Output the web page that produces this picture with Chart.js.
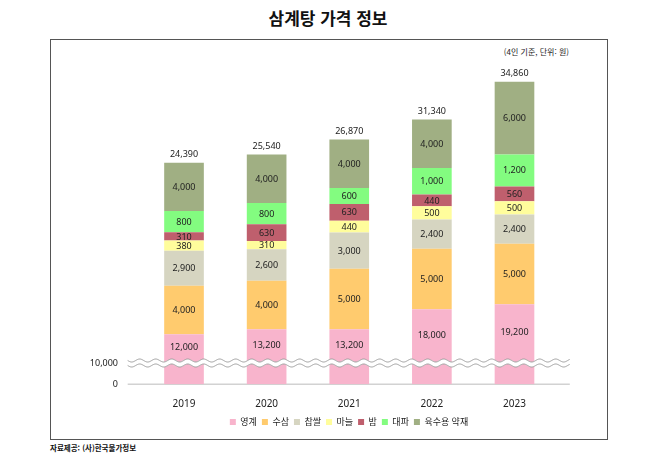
<!DOCTYPE html>
<html lang="ko">
<head>
<meta charset="utf-8">
<script src="https://cdn.jsdelivr.net/npm/chart.js@4/dist/chart.umd.min.js"></script>
<style>
  html, body { margin: 0; padding: 0; background: #fff; }
  #wrap { position: relative; width: 658px; height: 464px; overflow: hidden; font-family: 'Noto Sans', 'Noto Sans CJK KR', sans-serif; }
  #frame { position: absolute; left: 50px; top: 39px; width: 556px; height: 399px; border: 1.5px solid #555; }
  #title { position: absolute; left: 0; top: 7px; width: 656px; text-align: center; font-family: 'Noto Sans CJK KR', sans-serif; font-weight: 700; font-size: 17px; line-height: 22px; color: #111; }
  #unit { position: absolute; right: 89px; top: 46px; font-family: 'Noto Sans CJK KR', sans-serif; font-size: 8px; line-height: 12px; color: #222; }
  #source { position: absolute; left: 50px; top: 442px; font-family: 'Noto Sans CJK KR', sans-serif; font-weight: 700; font-size: 7.5px; line-height: 12px; color: #111; }
  canvas { position: absolute; left: 0; top: 0; }
</style>
</head>
<body>
<div id="wrap">
  <div id="frame"></div>
  <div id="title">삼계탕 가격 정보</div>
  <div id="unit">(4인 기준, 단위: 원)</div>
  <div id="source">자료제공: (사)한국물가정보</div>
  <canvas id="c" width="658" height="464"></canvas>
</div>
<script>
// ---- data (원, 4인 기준) ----
const categories = ['2019', '2020', '2021', '2022', '2023'];
const seriesNames = ['영계', '수삼', '찹쌀', '마늘', '밤', '대파', '육수용 약재'];
const youngChicken = [12000, 13200, 13200, 18000, 19200];
const ginseng      = [4000, 4000, 5000, 5000, 5000];
const glutinousRice = [2900, 2600, 3000, 2400, 2400];
const garlic       = [380, 310, 440, 500, 500];
const chestnut     = [310, 630, 630, 440, 560];
const greenOnion   = [800, 800, 600, 1000, 1200];
const herbs        = [4000, 4000, 4000, 4000, 6000];
const totals       = [24390, 25540, 26870, 31340, 34860];
const yTickLabels  = ['0', '10,000'];

// ---- styling ----
const seriesValues = [youngChicken, ginseng, glutinousRice, garlic, chestnut, greenOnion, herbs];
const colors = ['#F8B4CC', '#FFCB6E', '#D6D5C1', '#FFFD9C', '#BF5F6D', '#83FC80', '#A0AF83'];
// The infographic draws segments with non-uniform visual scales (broken axis for 영계,
// enlarged small items). These factors reproduce that visual compression.
const visualFactor = [0.345, 1, 1, 2.2, 2.2, 2.2, 1];
const BREAK_AT = 1760; // axis-break position (display units) where "10,000" is shown

const fontFam = "'Noto Sans', 'Noto Sans CJK KR', sans-serif";
const fmt = v => v.toLocaleString('en-US');

const datasets = seriesNames.map((name, i) => ({
  label: name,
  data: seriesValues[i].map(v => v * visualFactor[i]),
  realValues: seriesValues[i],
  backgroundColor: colors[i],
  borderWidth: 0,
  barPercentage: 0.48,
  categoryPercentage: 1.0
}));

function wave(ctx, x0, x1, y, amp, len) {
  ctx.beginPath();
  for (let x = x0; x <= x1; x += 0.5) {
    const yy = y + amp * Math.sin(2 * Math.PI * (x - x0) / len);
    if (x === x0) ctx.moveTo(x, yy); else ctx.lineTo(x, yy);
  }
  ctx.stroke();
}

const decor = {
  id: 'decor',
  beforeDatasetsDraw(chart) {
    const {ctx, chartArea, scales} = chart;
    const y = scales.y.getPixelForValue(0);
    ctx.save();
    ctx.strokeStyle = '#d2d2d2';
    ctx.lineWidth = 1.5;
    ctx.beginPath();
    ctx.moveTo(chartArea.left - 15, y);
    ctx.lineTo(chartArea.right + 14, y);
    ctx.stroke();
    ctx.restore();
  },
  afterDatasetsDraw(chart) {
    const {ctx, chartArea, scales} = chart;
    const yb = scales.y.getPixelForValue(BREAK_AT);
    const x0 = chartArea.left - 15, x1 = chartArea.right + 14;
    ctx.save();
    ctx.strokeStyle = '#ffffff';
    ctx.lineWidth = 5;
    wave(ctx, x0, x1, yb, 1.5, 16);
    ctx.strokeStyle = '#9a9a9a';
    ctx.lineWidth = 1;
    wave(ctx, x0, x1, yb - 2.5, 1.5, 16);
    wave(ctx, x0, x1, yb + 2.5, 1.5, 16);

    // value labels
    ctx.font = '9px ' + fontFam;
    ctx.fillStyle = '#222';
    ctx.textAlign = 'center';
    ctx.textBaseline = 'middle';
    chart.data.datasets.forEach((ds, di) => {
      const meta = chart.getDatasetMeta(di);
      meta.data.forEach((bar, i) => {
        const bottom = di === 0 ? yb - 2.5 : bar.base;
        ctx.fillText(fmt(ds.realValues[i]), bar.x, (bar.y + bottom) / 2 + 0.5);
      });
    });
    // totals
    const topMeta = chart.getDatasetMeta(chart.data.datasets.length - 1);
    topMeta.data.forEach((bar, i) => {
      ctx.fillText(fmt(totals[i]), bar.x, bar.y - 8);
    });
    ctx.restore();
  }
};

new Chart(document.getElementById('c'), {
  type: 'bar',
  data: { labels: categories, datasets },
  plugins: [decor],
  options: {
    responsive: false,
    animation: false,
    devicePixelRatio: 1,
    layout: { padding: { left: 82.7, right: 42.7, top: 69.7, bottom: 27.5 } },
    plugins: {
      title: { display: false },
      tooltip: { enabled: false },
      legend: {
        position: 'bottom',
        labels: {
          boxWidth: 6, boxHeight: 6, padding: 5,
          color: '#222',
          font: { family: fontFam, size: 9 }
        }
      }
    },
    scales: {
      x: {
        stacked: true,
        grid: { display: false, drawTicks: false },
        border: { display: false },
        ticks: { padding: 14, color: '#222', font: { family: fontFam, size: 10 } },
        afterFit: s => { s.height = 28.2; }
      },
      y: {
        stacked: true,
        min: 0, max: 26000,
        grid: { display: false, drawTicks: false },
        border: { display: false },
        afterFit: s => { s.width = 60; },
        afterBuildTicks: s => { s.ticks = [{ value: 0 }, { value: BREAK_AT }]; },
        ticks: {
          padding: 24.7,
          color: '#222',
          font: { family: fontFam, size: 9 },
          callback: (v, i) => yTickLabels[i]
        }
      },
      yRight: {
        position: 'right',
        display: true,
        grid: { display: false, drawTicks: false },
        border: { display: false },
        ticks: { display: false },
        afterFit: s => { s.width = 59.5; }
      }
    }
  }
});
</script>
</body>
</html>
